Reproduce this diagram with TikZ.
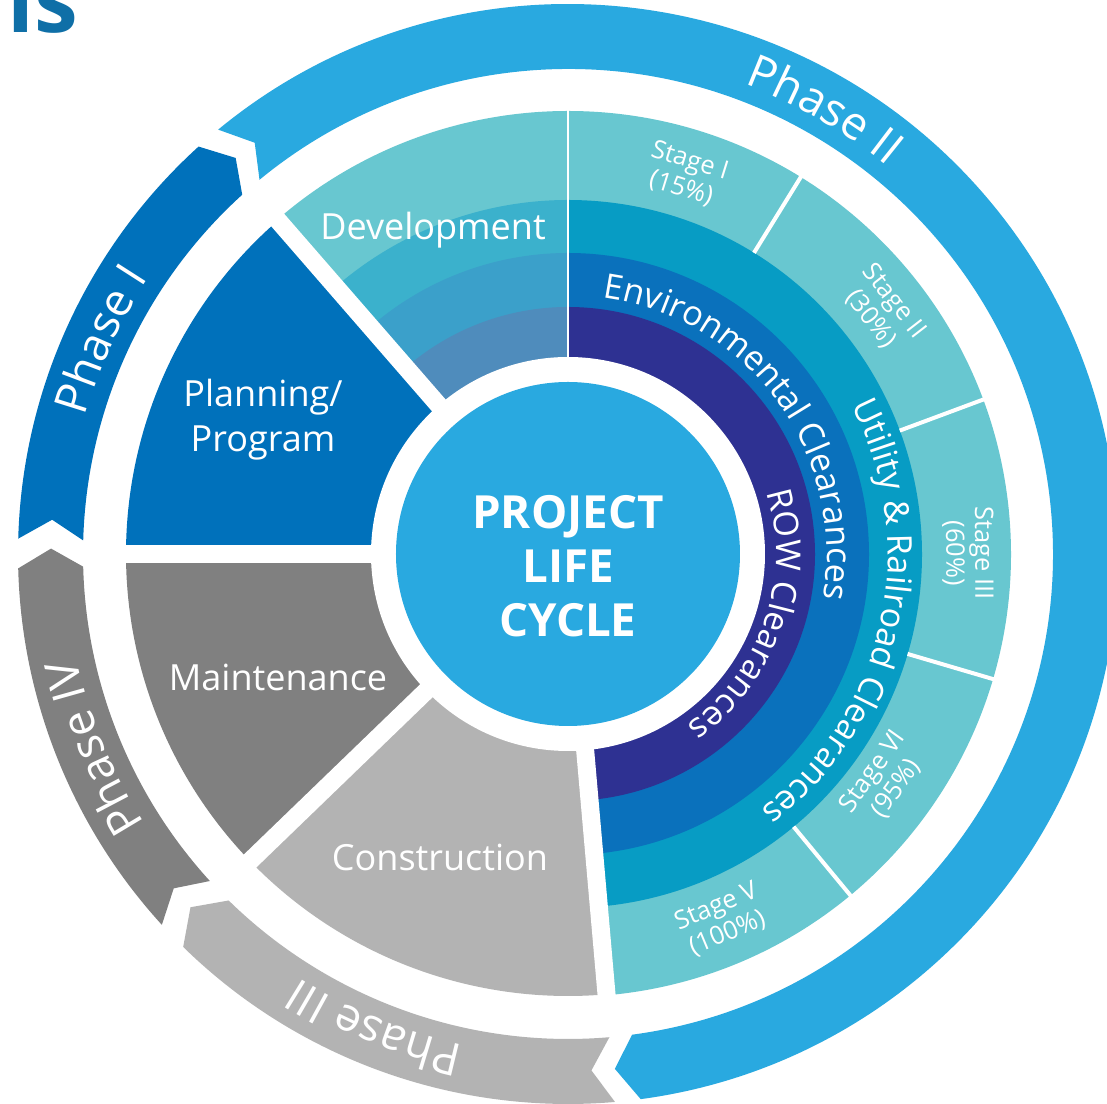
\documentclass[tikz,border=0pt]{standalone}
\usepackage{fontspec}
\setmainfont{Open Sans}
\usepackage{tikz}
\usetikzlibrary{decorations.text}
\definecolor{phasetwo}{HTML}{29A9E0}
\definecolor{planblue}{HTML}{0071BB}
\definecolor{maintgray}{HTML}{808080}
\definecolor{constgray}{HTML}{B3B3B3}
\definecolor{stagecol}{HTML}{68C7D0}
\definecolor{utilcol}{HTML}{079CC4}
\definecolor{envcol}{HTML}{0A71BC}
\definecolor{rowcol}{HTML}{2E3192}
\definecolor{devtwo}{HTML}{3BB1CC}
\definecolor{devthree}{HTML}{3BA0CA}
\definecolor{devfour}{HTML}{4F8CBC}
\definecolor{titleblue}{HTML}{0F6FA7}
\tikzset{
    gap/.style = {white, line width=0.36cm},
    divider/.style = {white, line width=0.08cm},
    sectorlabel/.style = {text=white, font=\fontsize{20.5}{25.6}\selectfont, align=center},
    stagelabel/.style = {text=white, font=\fontsize{14.5}{16.5}\selectfont, align=center, inner sep=0pt},
    ringtext/.style = {decorate, decoration={text along path, text align=center, text color=white}}
}

\begin{document}
\begin{tikzpicture}[x=0.02cm, y=0.02cm]
    \fill[white] (-568,-550) rectangle (539,554);
    \useasboundingbox (-568,-550) rectangle (539,554);
    % title remnant
    \node (title) [anchor=base west, text=titleblue, font=\bfseries\fontsize{50}{50}\selectfont, inner sep=0pt] at (-561,521) {is};
    % phase arrows
    \fill[planblue] (178.4:550) arc[start angle=178.4, end angle=132.2, radius=550] -- (130:517) -- (132.2:485) arc[start angle=132.2, end angle=178.4, radius=485] -- (176.2:517) -- cycle;
    \fill[phasetwo] (129.5:550) arc[start angle=129.5, end angle=-82.4, radius=550] -- (-84.8:517) -- (-82.4:485) arc[start angle=-82.4, end angle=129.5, radius=485] -- (127.3:517) -- cycle;
    \fill[constgray] (-85.1:550) arc[start angle=-85.1, end angle=-134.4, radius=550] -- (-136.9:517) -- (-134.4:485) arc[start angle=-134.4, end angle=-85.1, radius=485] -- (-87.4:517) -- cycle;
    \fill[maintgray] (-137.6:550) arc[start angle=-137.6, end angle=-178.5, radius=550] -- (-180.6:517) -- (-178.5:485) arc[start angle=-178.5, end angle=-137.6, radius=485] -- (-139.7:517) -- cycle;
    % clearance rings
    \fill[stagecol] (0,0) -- (-85:443) arc[start angle=-85, end angle=90, radius=443] -- cycle;
    \fill[utilcol] (0,0) -- (-85:354) arc[start angle=-85, end angle=90, radius=354] -- cycle;
    \fill[envcol] (0,0) -- (-85:301) arc[start angle=-85, end angle=90, radius=301] -- cycle;
    \fill[rowcol] (0,0) -- (-85:247) arc[start angle=-85, end angle=90, radius=247] -- cycle;
    % development
    \fill[stagecol] (0,0) -- (90:443) arc[start angle=90, end angle=131, radius=443] -- cycle;
    \fill[devtwo] (0,0) -- (90:354) arc[start angle=90, end angle=131, radius=354] -- cycle;
    \fill[devthree] (0,0) -- (90:301) arc[start angle=90, end angle=131, radius=301] -- cycle;
    \fill[devfour] (0,0) -- (90:247) arc[start angle=90, end angle=131, radius=247] -- cycle;
    % other sectors
    \fill[planblue] (0,0) -- (131:442) arc[start angle=131, end angle=180, radius=442] -- cycle;
    \fill[maintgray] (0,0) -- (180:442) arc[start angle=180, end angle=224, radius=442] -- cycle;
    \fill[constgray] (0,0) -- (224:442) arc[start angle=224, end angle=275, radius=442] -- cycle;
    % gaps and dividers
    \draw[gap] (0,0) -- (131:455);
    \draw[gap] (0,0) -- (180:455);
    \draw[gap] (0,0) -- (224:455);
    \draw[gap] (0,0) -- (275:455);
    \draw[white, line width=0.04cm] (90:190) -- (90:445);
    \draw[divider] (58.3:354) -- (58.3:445);
    \draw[divider] (20.4:354) -- (20.4:445);
    \draw[divider] (-16.4:354) -- (-16.4:445);
    \draw[divider] (-50.4:354) -- (-50.4:445);
    % centre
    \fill[white] (0,0) circle[radius=197];
    \fill[phasetwo] (0,0) circle[radius=172];
    \node (core) [text=white, font=\bfseries\fontsize{26}{30.7}\selectfont, align=center] at (0,-12) {PROJECT\\LIFE\\CYCLE};
    % sector labels
    \node (dev) [sectorlabel] at (-135,324) {Development};
    \node (plan) [sectorlabel] at (-305,134) {Planning/\\Program};
    \node (maint) [sectorlabel] at (-290,-123) {Maintenance};
    \node (constr) [sectorlabel] at (-128,-303) {Construction};
    % stage labels
    \node (s1) [stagelabel, rotate=-17.2] at (72.8:397) {Stage I\\(15\%)};
    \node (s2) [stagelabel, rotate=-52.2] at (37.8:398) {Stage II\\(30\%)};
    \node (s3) [stagelabel, rotate=-89.9] at (0.1:400) {Stage III\\(60\%)};
    \node (s4) [stagelabel, rotate=54.5] at (-35.5:389) {Stage VI\\(95\%)};
    \node (s5) [stagelabel, rotate=22.8] at (-67.2:397) {Stage V\\(100\%)};
    % curved ring texts
    \path[ringtext, decoration={text={|\fontsize{19.5}{22}\selectfont|Environmental Clearances}}] (96.2:259) arc[start angle=96.2, end angle=-23.8, radius=259];
    \path[ringtext, decoration={text={|\fontsize{19.5}{22}\selectfont|Utility {\&} Railroad Clearances}}] (47.3:320) arc[start angle=47.3, end angle=-72.7, radius=320];
    \path[ringtext, decoration={text={|\fontsize{19.5}{22}\selectfont|ROW Clearances}}] (31:208) arc[start angle=31, end angle=-69, radius=208];
    % phase labels
    \path[ringtext, decoration={text={|\fontsize{26}{30}\selectfont|Phase I}}] (185.4:502) arc[start angle=185.4, end angle=125.4, radius=502];
    \path[ringtext, decoration={text={|\fontsize{26}{30}\selectfont|Phase II}}] (90:502) arc[start angle=90, end angle=30, radius=502];
    \path[ringtext, decoration={text={|\fontsize{26}{30}\selectfont|Phase III}}] (277.8:502) arc[start angle=277.8, end angle=217.8, radius=502];
    \path[ringtext, decoration={text={|\fontsize{26}{30}\selectfont|Phase IV}}] (232.2:502) arc[start angle=232.2, end angle=172.2, radius=502];
\end{tikzpicture}
\end{document}
